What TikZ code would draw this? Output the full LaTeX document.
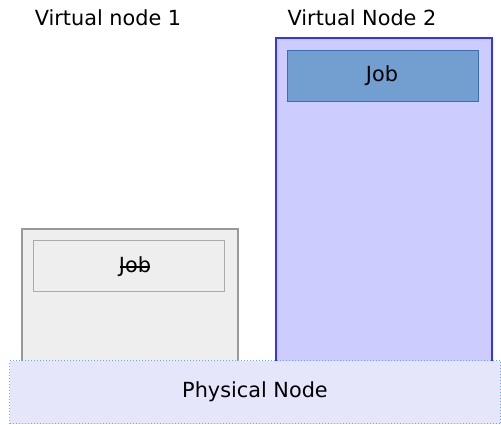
\documentclass[tikz,border=0pt]{standalone}
\usepackage{fontspec}
\setmainfont{DejaVu Sans}
\definecolor{vtwofill}{HTML}{CCCCFF}
\definecolor{vtwoline}{HTML}{3333FF}
\definecolor{jobfill}{HTML}{729FCF}
\definecolor{jobline}{HTML}{3C6EB4}
\definecolor{vonefill}{HTML}{EEEEEE}
\definecolor{voneline}{HTML}{999999}
\definecolor{jobgline}{HTML}{AAAAAA}
\definecolor{physfill}{HTML}{E6E6FA}
\definecolor{physline}{HTML}{66AAFF}
\tikzset{
  vbox/.style={draw, line width=2.2pt, anchor=north west, inner sep=0pt},
  jobbox/.style={draw, line width=1pt, anchor=north west, inner sep=0pt},
  lbl/.style={font=\fontsize{20.8}{24}\selectfont, inner sep=0pt},
}
\begin{document}
\begin{tikzpicture}[x=1pt,y=-1pt]
\useasboundingbox (0,0) rectangle (501,424);
% virtual node 1
\node[vbox, draw=voneline, fill=vonefill, minimum width=216pt, minimum height=150pt] (v1) at (21,228) {};
\node[jobbox, draw=jobgline, fill=vonefill, minimum width=191pt, minimum height=51pt] (j1) at (33,240) {};
\node[lbl] (j1t) at (135,267) {Job};
\draw[line width=1.2pt] ([xshift=1.5pt]j1t.west |- 0,267) -- ([xshift=-1.5pt]j1t.east |- 0,267);
% virtual node 2
\node[vbox, draw=vtwoline, fill=vtwofill, minimum width=216pt, minimum height=340pt] (v2) at (275,37) {};
\node[jobbox, draw=jobline, fill=jobfill, minimum width=191pt, minimum height=51pt] (j2) at (287,50) {};
\node[lbl] (j2t) at (382,76) {Job};
% physical node
\node[draw=physline, dotted, line width=1pt, fill=physfill, anchor=north west, inner sep=0pt, minimum width=491pt, minimum height=63pt] (pn) at (9,360) {};
\node[lbl] (pnt) at (255,392) {Physical Node};
% titles
\node[lbl] (t1) at (108,18) {Virtual node 1};
\node[lbl] (t2) at (362,18) {Virtual Node 2};
\end{tikzpicture}
\end{document}
